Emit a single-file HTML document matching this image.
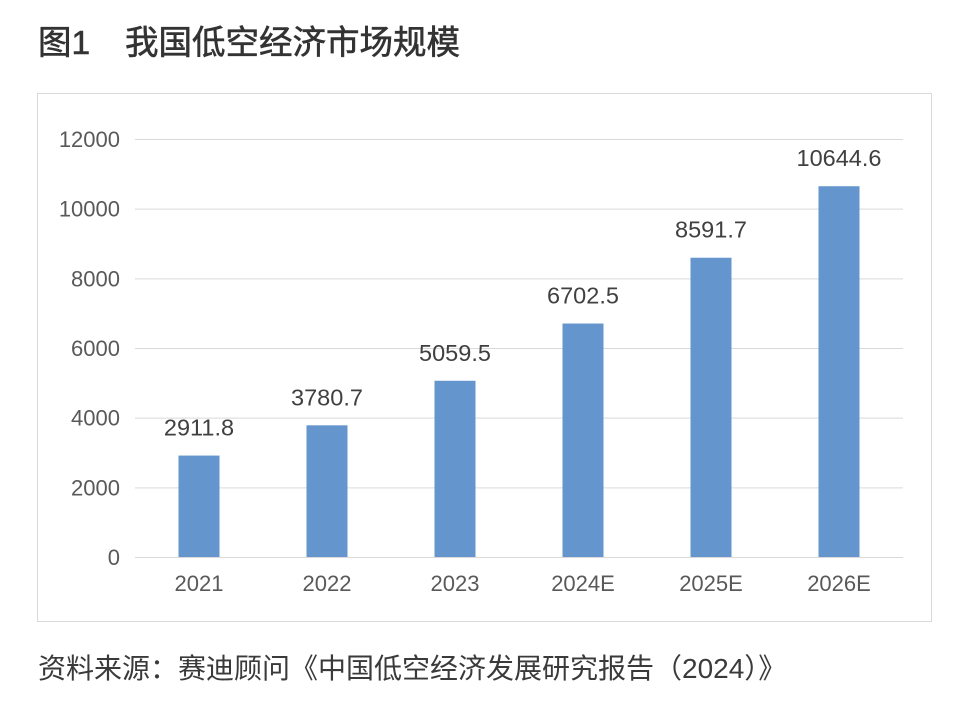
<!DOCTYPE html>
<html><head><meta charset="utf-8"><style>
body{margin:0;background:#fff;width:960px;height:705px;overflow:hidden;font-family:"Liberation Sans","Noto Sans CJK SC",sans-serif}
</style></head><body>
<svg width="960" height="705" xmlns="http://www.w3.org/2000/svg" id="chart">
<text x="38" y="54" font-size="33.5" fill="#333" stroke="#333" stroke-width="0.6" font-family="Liberation Sans,Noto Sans CJK SC,sans-serif">图1<tspan x="125">我国低空经济市场规模</tspan></text>
<rect x="37.5" y="93.5" width="894" height="528" fill="#fff" stroke="#d9d9d9"/>
<g id="grid"></g><g id="bars"></g>
<text x="38" y="678" font-size="28" fill="#3a3a3a" font-family="Liberation Sans,Noto Sans CJK SC,sans-serif">资料来源：赛迪顾问《中国低空经济发展研究报告（2024）》</text>
</svg>
<script>
const categories=["2021","2022","2023","2024E","2025E","2026E"];
const values=[2911.8,3780.7,5059.5,6702.5,8591.7,10644.6];
const valueLabels=["2911.8","3780.7","5059.5","6702.5","8591.7","10644.6"];
const yTicks=[0,2000,4000,6000,8000,10000,12000];
const NS="http://www.w3.org/2000/svg";
const x0=135,x1=903,y0=557,y1=139,yMax=12000;
const y=v=>y0-(v/yMax)*(y0-y1);
const step=(x1-x0)/categories.length;
const xc=i=>x0+step*(i+0.5);
function mk(t,a,p){const e=document.createElementNS(NS,t);for(const k in a)e.setAttribute(k,a[k]);p.appendChild(e);return e;}
const g=document.getElementById('grid'),b=document.getElementById('bars');
yTicks.forEach(v=>{
 const l=mk('line',{x1:x0,x2:x1,y1:y(v)+0.5,y2:y(v)+0.5,stroke:'#d9d9d9','stroke-width':1},g);
 
 
 const t=mk('text',{x:120,y:y(v)+8,'text-anchor':'end','font-size':22,fill:'#595959'},g);
 t.textContent=v;
 
 
});
categories.forEach((c,i)=>{
 const r=mk('rect',{x:xc(i)-20.5,y:y(values[i]),width:41,height:y0-y(values[i]),fill:'#6595cd'},b);
 
 
 const t=mk('text',{x:xc(i),y:y(values[i])-20,'text-anchor':'middle','font-size':23.5,fill:'#404040'},b);
 t.textContent=valueLabels[i];
 
 
 const xl=mk('text',{x:xc(i),y:591,'text-anchor':'middle','font-size':22,fill:'#595959'},b);
 xl.textContent=c;
 
 
});
</script>
</body></html>
